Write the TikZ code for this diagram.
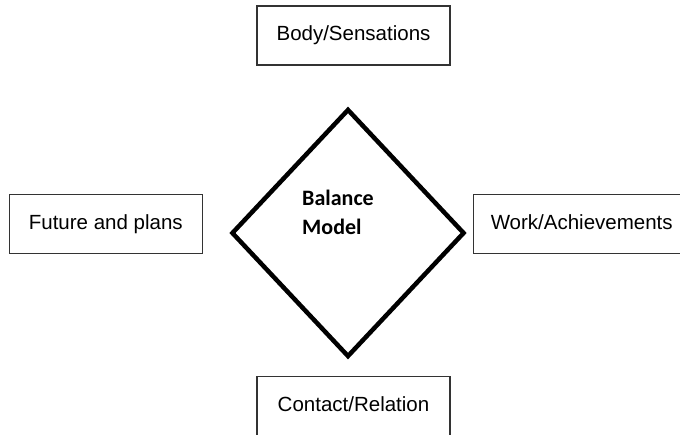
\documentclass[tikz,border=0pt]{standalone}
\usepackage{fontspec}
\setmainfont{Liberation Sans}
\newfontfamily\calibri{Carlito}
\usetikzlibrary{positioning, shapes.geometric}

\begin{document}
\begin{tikzpicture}[x=1pt, y=1pt,
  area/.style={draw=black!80, line width=1.2pt, inner sep=0pt,
    minimum width=193pt, minimum height=59pt,
    text height=15pt, text depth=4.5pt,
    font=\fontsize{20.5}{24}\selectfont},
  balance/.style={diamond, draw=black, line width=4.5pt, inner sep=0pt,
    minimum width=233pt, minimum height=248pt},
  title/.style={align=left, inner sep=0pt,
    font=\calibri\bfseries\fontsize{22}{29.5}\selectfont}
]
\useasboundingbox (0,0) rectangle (680,434);
\clip (0,0) rectangle (680,434);

% Centre of the model
\node[balance] (model) at (348,201) {};
\node[title, anchor=base west] (modeltext) at (302,199) {Balance\\Model};

% The four areas
\node[area] (body) at (353.5,398.5) {Body/Sensations};
\node[area] (future) at (105.8,210) {Future and plans};
\node[area, minimum width=217pt] (work) at (581.7,210) {Work/Achievements};
\node[area] (contact) at (353.5,28) {Contact/Relation};
\end{tikzpicture}
\end{document}
